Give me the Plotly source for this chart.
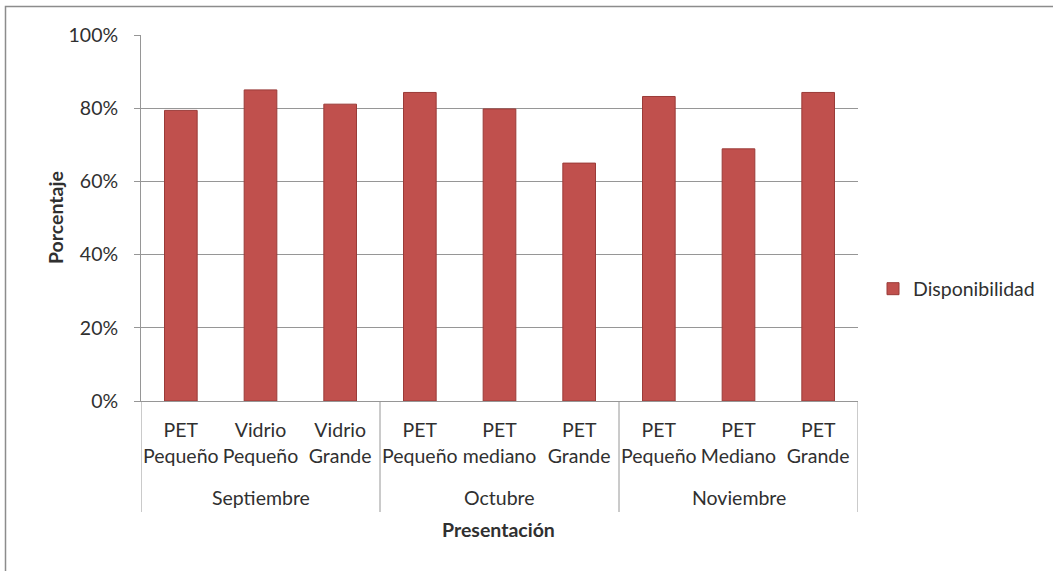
import plotly.graph_objects as go

# ---- data ----
months = ["Septiembre", "Octubre", "Noviembre"]
presentaciones = [
    "PET<br>Pequeño", "Vidrio<br>Pequeño", "Vidrio<br>Grande",
    "PET<br>Pequeño", "PET<br>mediano", "PET<br>Grande",
    "PET<br>Pequeño", "PET<br>Mediano", "PET<br>Grande",
]
month_of_bar = [0, 0, 0, 1, 1, 1, 2, 2, 2]
disponibilidad = [79.4, 85.0, 81.1, 84.3, 79.8, 65.0, 83.2, 68.9, 84.3]
y_ticks = [0, 20, 40, 60, 80, 100]
y_tick_labels = ["0%", "20%", "40%", "60%", "80%", "100%"]

FONT = "Lato"
FS = 19.5
TXT = "#303030"
GRID = "#969696"

W, H = 1053, 571
L, R, T, B = 141, 858, 35, 401
pw, ph = R - L, B - T

def px_to_py(py):
    return (B - py) / ph

xs = list(range(len(disponibilidad)))

fig = go.Figure()
fig.add_trace(go.Bar(
    x=xs, y=disponibilidad, name="Disponibilidad", width=0.41,
    marker=dict(color="#C0504D", line=dict(color="#9A3B38", width=1)),
))

# group labels & dividers
annotations = []
for gi, m in enumerate(months):
    idx = [i for i, g in enumerate(month_of_bar) if g == gi]
    annotations.append(dict(
        x=sum(idx) / len(idx), xref="x", y=px_to_py(497), yref="paper",
        text=m, showarrow=False, yanchor="middle",
        font=dict(family=FONT, size=FS, color=TXT)))
annotations.append(dict(
    x=(498 - L) / pw, xref="paper", y=px_to_py(529), yref="paper",
    text="<b>Presentación</b>", showarrow=False, yanchor="middle", xanchor="center",
    font=dict(family=FONT, size=FS, color=TXT)))
annotations.append(dict(
    x=(55 - L) / pw, xref="paper", y=0.5, yref="paper",
    text="<b>Porcentaje</b>", showarrow=False, textangle=-90,
    xanchor="center", yanchor="middle",
    font=dict(family=FONT, size=FS, color=TXT)))

shapes = []
bounds = [-0.5]
for gi in range(len(months)):
    idx = [i for i, g in enumerate(month_of_bar) if g == gi]
    bounds.append(max(idx) + 0.5)
for bx in bounds:
    shapes.append(dict(type="line", xref="x", yref="paper", x0=bx, x1=bx,
                       y0=0, y1=px_to_py(512), line=dict(color=GRID, width=1)))
# outer chart border
shapes.append(dict(type="rect", xref="paper", yref="paper",
                   x0=(5.5 - L) / pw, x1=(1070 - L) / pw,
                   y0=px_to_py(590), y1=px_to_py(6.5),
                   line=dict(color="#8C8C8C", width=1.5)))

fig.update_layout(
    width=W, height=H,
    margin=dict(l=L, r=W - R, t=T, b=H - B, autoexpand=False),
    paper_bgcolor="white", plot_bgcolor="white",
    font=dict(family=FONT, size=FS, color=TXT),
    showlegend=True,
    legend=dict(x=(873 - L) / pw, xanchor="left", y=px_to_py(289), yanchor="middle",
                font=dict(family=FONT, size=FS, color=TXT), itemwidth=30,
                bgcolor="rgba(0,0,0,0)"),
    annotations=annotations, shapes=shapes,
)
fig.update_xaxes(
    range=[-0.5, len(xs) - 0.5], tickvals=xs, ticktext=presentaciones,
    showline=True, linecolor=GRID, linewidth=1, ticks="", showgrid=False,
    tickfont=dict(family=FONT, size=FS, color=TXT), ticklabelstandoff=12,
    zeroline=False,
)
fig.update_yaxes(
    range=[0, 100], tickvals=y_ticks, ticktext=y_tick_labels,
    showline=True, linecolor=GRID, linewidth=1,
    ticks="outside", ticklen=6, tickcolor=GRID,
    showgrid=True, gridcolor=GRID, gridwidth=1, zeroline=False,
    tickfont=dict(family=FONT, size=FS, color=TXT), ticklabelstandoff=12,
)

fig.write_html("out.html", config={"displayModeBar": False},
               post_script="document.body.style.margin='0';")
